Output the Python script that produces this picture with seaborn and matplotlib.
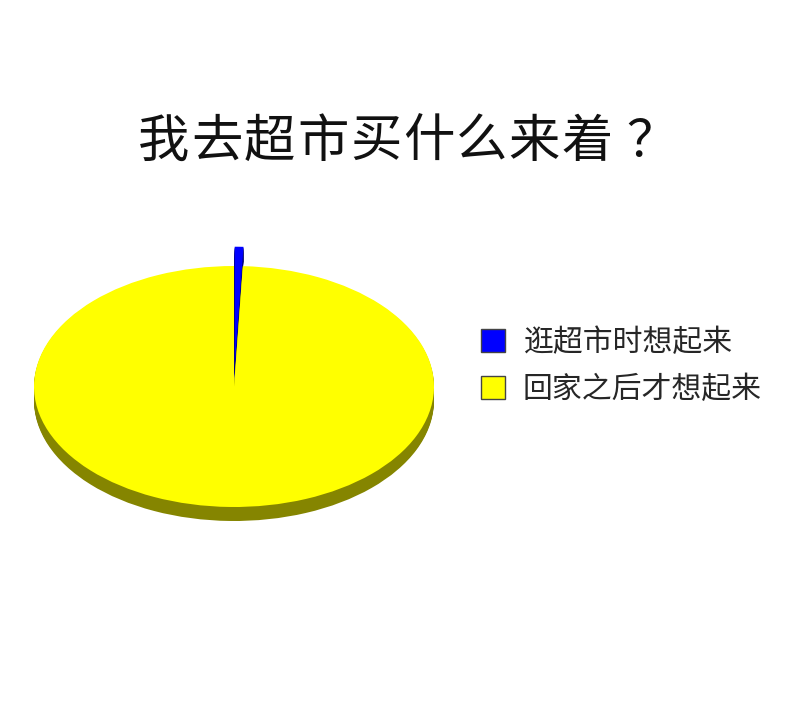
import matplotlib.pyplot as plt
import seaborn as sns
from matplotlib.patches import Patch

# chart data
labels = ['逛超市时想起来', '回家之后才想起来']
shares = [0.7, 99.3]
top_colors = ['#0000ff', '#ffff00']
side_colors = ['#00006e', '#858500']
title = '我去超市买什么来着？'

sns.set_theme(style='white')
plt.rcParams['font.family'] = ['Noto Sans CJK SC', 'DejaVu Sans']

W, H = 800, 707
fig = plt.figure(figsize=(W / 100, H / 100), dpi=100)
fig.patch.set_facecolor('white')

# pie axes placed so the ellipse spans x 34..434 px, centre y ~386 px
unit_y = 120.5  # px per unit vertically (squashed circle)
ylim = 1.33
ax_h = 2 * ylim * unit_y
ax = fig.add_axes([34 / W, (H - 386.5 - ax_h / 2) / H, 400 / W, ax_h / H])

depth = 14 / unit_y
explode = [0.16, 0]
n_layers = 14
for i in range(n_layers, 0, -1):
    off = -depth * i / n_layers
    ax.pie(shares, colors=side_colors, startangle=90, counterclock=False,
           explode=explode, center=(0, off), radius=1,
           wedgeprops=dict(linewidth=0))
ax.pie(shares, colors=top_colors, startangle=90, counterclock=False,
       explode=explode, center=(0, 0), radius=1,
       wedgeprops=dict(linewidth=0))
ax.set_aspect('auto')
ax.set_xlim(-1, 1)
ax.set_ylim(-ylim, ylim)
ax.axis('off')

# title, one glyph per cell to get the wide letter spacing of the original
pitch = 52.9
x0 = 164
for i, ch in enumerate(title):
    x = x0 + i * pitch
    if ch == '？':
        x += 12  # the CJK question mark sits left in its cell
    fig.text(x / W, 1 - 142 / H, ch, ha='center', va='center',
             fontsize=37, fontweight='medium', color='#111111')

handles = [Patch(facecolor=c, edgecolor='#444444', linewidth=1) for c in top_colors]
fig.legend(handles, labels, loc='center left',
           bbox_to_anchor=(481 / W, 1 - 366 / H), frameon=False,
           fontsize=21.5, handlelength=0.8, handleheight=0.8,
           handletextpad=0.6, labelspacing=0.55,
           borderpad=0, borderaxespad=0)

fig.savefig('out.png', dpi=100, facecolor='white')
